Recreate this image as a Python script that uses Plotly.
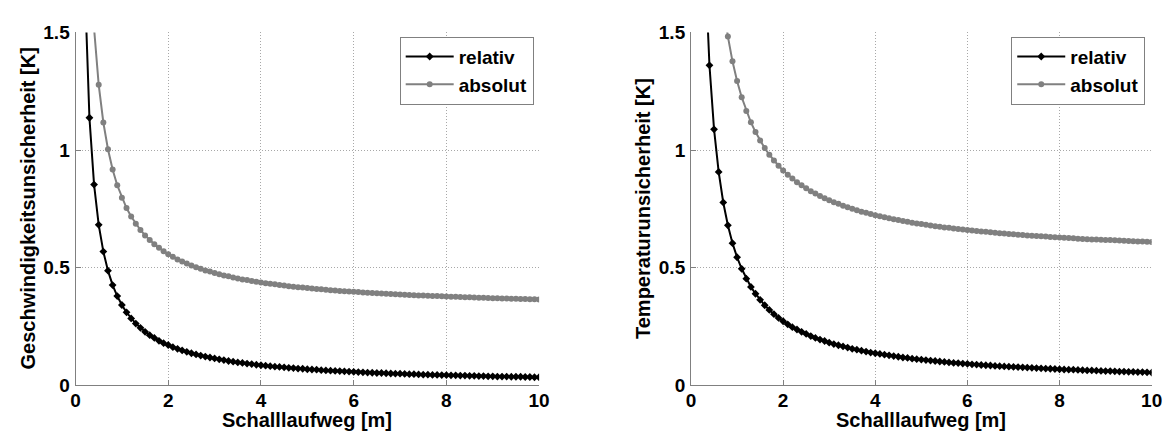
import plotly.graph_objects as go

# Schallaufweg [m]
x_m = [0.1, 0.2, 0.3, 0.4, 0.5, 0.6, 0.7, 0.8, 0.9, 1.0,
       1.1, 1.2, 1.3, 1.4, 1.5, 1.6, 1.7, 1.8, 1.9, 2.0,
       2.1, 2.2, 2.3, 2.4, 2.5, 2.6, 2.7, 2.8, 2.9, 3.0,
       3.1, 3.2, 3.3, 3.4, 3.5, 3.6, 3.7, 3.8, 3.9, 4.0,
       4.1, 4.2, 4.3, 4.4, 4.5, 4.6, 4.7, 4.8, 4.9, 5.0,
       5.1, 5.2, 5.3, 5.4, 5.5, 5.6, 5.7, 5.8, 5.9, 6.0,
       6.1, 6.2, 6.3, 6.4, 6.5, 6.6, 6.7, 6.8, 6.9, 7.0,
       7.1, 7.2, 7.3, 7.4, 7.5, 7.6, 7.7, 7.8, 7.9, 8.0,
       8.1, 8.2, 8.3, 8.4, 8.5, 8.6, 8.7, 8.8, 8.9, 9.0,
       9.1, 9.2, 9.3, 9.4, 9.5, 9.6, 9.7, 9.8, 9.9, 10.0]

# left panel: Geschwindigkeitsunsicherheit
v_relativ = [3.410, 1.705, 1.137, 0.853, 0.682, 0.568, 0.487, 0.426, 0.379, 0.341,
             0.310, 0.284, 0.262, 0.244, 0.227, 0.213, 0.201, 0.189, 0.179, 0.171,
             0.162, 0.155, 0.148, 0.142, 0.136, 0.131, 0.126, 0.122, 0.118, 0.114,
             0.110, 0.107, 0.103, 0.100, 0.097, 0.095, 0.092, 0.090, 0.087, 0.085,
             0.083, 0.081, 0.079, 0.078, 0.076, 0.074, 0.073, 0.071, 0.070, 0.068,
             0.067, 0.066, 0.064, 0.063, 0.062, 0.061, 0.060, 0.059, 0.058, 0.057,
             0.056, 0.055, 0.054, 0.053, 0.052, 0.052, 0.051, 0.050, 0.049, 0.049,
             0.048, 0.047, 0.047, 0.046, 0.045, 0.045, 0.044, 0.044, 0.043, 0.043,
             0.042, 0.042, 0.041, 0.041, 0.040, 0.040, 0.039, 0.039, 0.038, 0.038,
             0.037, 0.037, 0.037, 0.036, 0.036, 0.036, 0.035, 0.035, 0.034, 0.034]
v_absolut = [5.117, 2.717, 1.917, 1.517, 1.277, 1.117, 1.003, 0.917, 0.850, 0.797,
             0.753, 0.717, 0.686, 0.660, 0.637, 0.617, 0.599, 0.584, 0.570, 0.557,
             0.546, 0.535, 0.526, 0.517, 0.509, 0.502, 0.495, 0.488, 0.483, 0.477,
             0.472, 0.467, 0.463, 0.458, 0.454, 0.450, 0.447, 0.443, 0.440, 0.437,
             0.434, 0.431, 0.429, 0.426, 0.424, 0.421, 0.419, 0.417, 0.415, 0.413,
             0.411, 0.409, 0.408, 0.406, 0.404, 0.403, 0.401, 0.400, 0.398, 0.397,
             0.396, 0.394, 0.393, 0.392, 0.391, 0.390, 0.389, 0.388, 0.387, 0.386,
             0.385, 0.384, 0.383, 0.382, 0.381, 0.380, 0.379, 0.379, 0.378, 0.377,
             0.376, 0.376, 0.375, 0.374, 0.374, 0.373, 0.372, 0.372, 0.371, 0.370,
             0.370, 0.369, 0.369, 0.368, 0.368, 0.367, 0.367, 0.366, 0.366, 0.365]

# right panel: Temperaturunsicherheit
t_relativ = [5.440, 2.720, 1.813, 1.360, 1.088, 0.907, 0.777, 0.680, 0.604, 0.544,
             0.495, 0.453, 0.418, 0.389, 0.363, 0.340, 0.320, 0.302, 0.286, 0.272,
             0.259, 0.247, 0.237, 0.227, 0.218, 0.209, 0.201, 0.194, 0.188, 0.181,
             0.175, 0.170, 0.165, 0.160, 0.155, 0.151, 0.147, 0.143, 0.139, 0.136,
             0.133, 0.130, 0.127, 0.124, 0.121, 0.118, 0.116, 0.113, 0.111, 0.109,
             0.107, 0.105, 0.103, 0.101, 0.099, 0.097, 0.095, 0.094, 0.092, 0.091,
             0.089, 0.088, 0.086, 0.085, 0.084, 0.082, 0.081, 0.080, 0.079, 0.078,
             0.077, 0.076, 0.075, 0.074, 0.073, 0.072, 0.071, 0.070, 0.069, 0.068,
             0.067, 0.066, 0.066, 0.065, 0.064, 0.063, 0.063, 0.062, 0.061, 0.060,
             0.060, 0.059, 0.058, 0.058, 0.057, 0.057, 0.056, 0.056, 0.055, 0.054]
t_absolut = [8.133, 4.333, 3.066, 2.433, 2.053, 1.800, 1.619, 1.483, 1.377, 1.293,
             1.224, 1.166, 1.118, 1.076, 1.040, 1.008, 0.980, 0.955, 0.933, 0.913,
             0.895, 0.879, 0.863, 0.850, 0.837, 0.825, 0.815, 0.804, 0.795, 0.786,
             0.778, 0.771, 0.763, 0.757, 0.750, 0.744, 0.738, 0.733, 0.728, 0.723,
             0.718, 0.714, 0.710, 0.706, 0.702, 0.698, 0.695, 0.691, 0.688, 0.685,
             0.682, 0.679, 0.676, 0.674, 0.671, 0.669, 0.666, 0.664, 0.662, 0.660,
             0.658, 0.656, 0.654, 0.652, 0.650, 0.648, 0.646, 0.645, 0.643, 0.642,
             0.640, 0.639, 0.637, 0.636, 0.634, 0.633, 0.632, 0.630, 0.629, 0.628,
             0.627, 0.626, 0.625, 0.623, 0.622, 0.621, 0.620, 0.619, 0.618, 0.617,
             0.617, 0.616, 0.615, 0.614, 0.613, 0.612, 0.611, 0.611, 0.610, 0.609]

x_ticks = [0, 2, 4, 6, 8, 10]
y_ticks = [0, 0.5, 1, 1.5]
y_tick_text = ["0", "0.5", "1", "1.5"]
x_title = "Schalllaufweg [m]"
y_title_left = "Geschwindigkeitsunsicherheit [K]"
y_title_right = "Temperaturunsicherheit [K]"
series_names = ["relativ", "absolut"]

FONT = "Liberation Sans, Arial, sans-serif"
BLACK = "#000000"
GRAY = "#808080"

W, H = 1174, 441
fig = go.Figure()

panels = [
    dict(xa="x", ya="y", leg="legend", rel=v_relativ, ab=v_absolut),
    dict(xa="x2", ya="y2", leg="legend2", rel=t_relativ, ab=t_absolut),
]
for p in panels:
    fig.add_trace(go.Scatter(
        x=x_m, y=p["rel"], name=series_names[0], mode="lines+markers",
        xaxis=p["xa"], yaxis=p["ya"], legend=p["leg"],
        line=dict(color=BLACK, width=2),
        marker=dict(symbol="diamond", size=6, color=BLACK)))
    fig.add_trace(go.Scatter(
        x=x_m, y=p["ab"], name=series_names[1], mode="lines+markers",
        xaxis=p["xa"], yaxis=p["ya"], legend=p["leg"],
        line=dict(color=GRAY, width=2),
        marker=dict(symbol="circle", size=6, color=GRAY)))

y0 = (H - 394) / H
y1 = (H - 23.5) / H
dom_left = [71.5 / W, 541.5 / W]
dom_right = [695.5 / W, 1162.5 / W]

tickfont = dict(family=FONT, size=19, color="black", weight="bold")
grid = dict(showgrid=True, gridcolor="#a8a8a8", griddash="1px,2px", gridwidth=1,
            showline=True, linecolor=GRAY, linewidth=1, zeroline=False,
            ticks="inside", ticklen=5, tickcolor=GRAY, tickfont=tickfont,
            ticklabeloverflow="allow")
common_x = dict(range=[0, 10], tickvals=x_ticks, ticktext=[str(t) for t in x_ticks],
                ticklabelstandoff=-2, **grid)
common_y = dict(range=[0, 1.5], tickvals=y_ticks, ticktext=y_tick_text,
                ticklabelstandoff=1, **grid)

legend_common = dict(font=dict(family=FONT, size=19, color="black", weight="bold"),
                     bgcolor="white", bordercolor=GRAY, borderwidth=1,
                     xanchor="right", yanchor="top", y=(H - 28) / H,
                     tracegroupgap=0, itemwidth=48)

fig.update_layout(
    width=W, height=H,
    margin=dict(l=0, r=0, t=0, b=0),
    paper_bgcolor="white", plot_bgcolor="white",
    showlegend=True,
    xaxis=dict(domain=dom_left, anchor="y", **common_x),
    yaxis=dict(domain=[y0, y1], anchor="x", **common_y),
    xaxis2=dict(domain=dom_right, anchor="y2", **common_x),
    yaxis2=dict(domain=[y0, y1], anchor="x2", **common_y),
    legend=dict(x=536 / W, **legend_common),
    legend2=dict(x=1156 / W, **legend_common),
)

title_font = dict(family=FONT, size=20, color="black", weight="bold")
fig.add_annotation(text=x_title, xref="paper", yref="paper",
                   x=(dom_left[0] + dom_left[1]) / 2, y=(H - 431) / H,
                   showarrow=False, font=title_font, xanchor="center", yanchor="middle")
fig.add_annotation(text=x_title, xref="paper", yref="paper",
                   x=(dom_right[0] + dom_right[1]) / 2, y=(H - 431) / H,
                   showarrow=False, font=title_font, xanchor="center", yanchor="middle")
fig.add_annotation(text=y_title_left, xref="paper", yref="paper",
                   x=23 / W, y=(y0 + y1) / 2, textangle=-90,
                   showarrow=False, font=title_font, xanchor="center", yanchor="middle")
fig.add_annotation(text=y_title_right, xref="paper", yref="paper",
                   x=647 / W, y=(y0 + y1) / 2, textangle=-90,
                   showarrow=False, font=title_font, xanchor="center", yanchor="middle")

fig.write_html("out.html",
               config={"displayModeBar": False},
               post_script="document.body.style.margin='0';"
                           "document.body.style.overflow='hidden';")
